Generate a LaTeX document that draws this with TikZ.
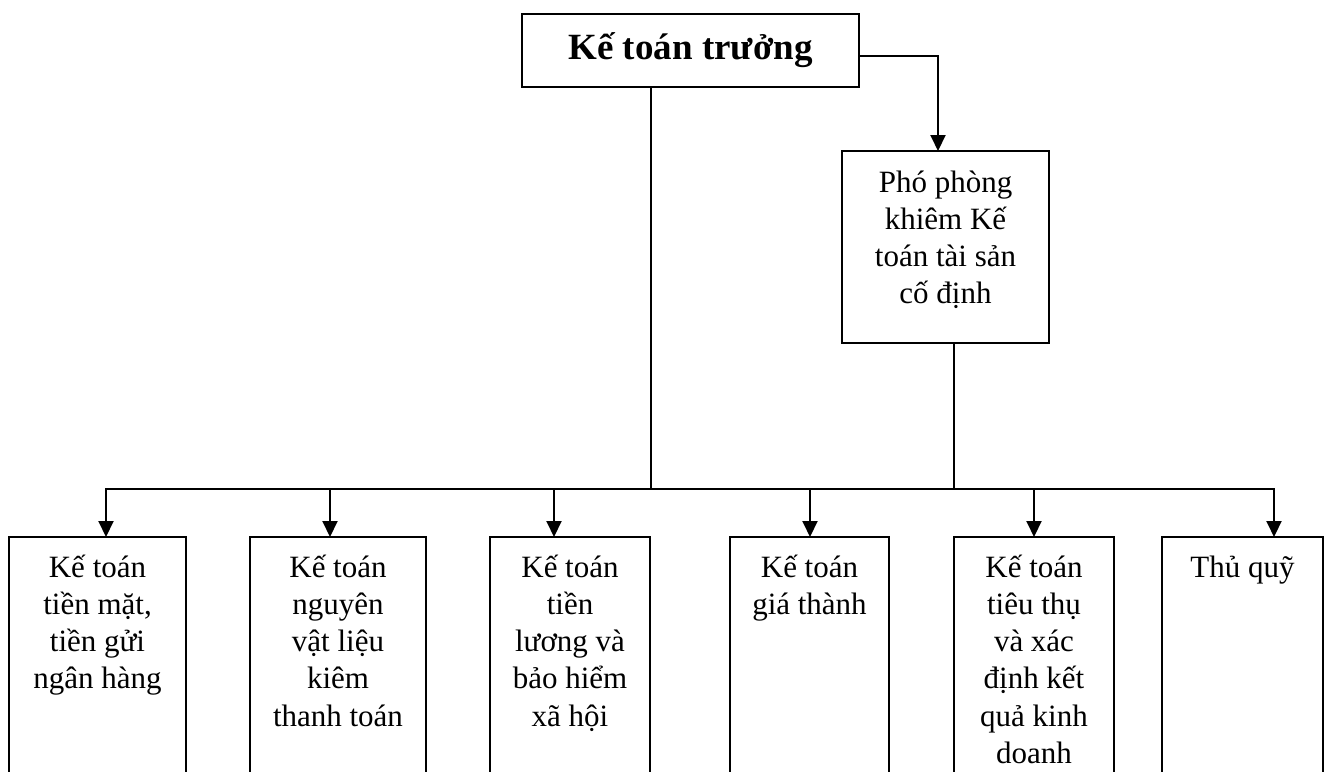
\documentclass[tikz,border=0pt]{standalone}
\usepackage{fontspec}
\setmainfont{Liberation Serif}
\usetikzlibrary{arrows.meta}
\begin{document}
\begin{tikzpicture}[x=1pt,y=-1pt,
  boxline/.style={draw,line width=1.7pt,inner sep=0pt,outer sep=0pt,anchor=north west},
  conn/.style={line width=2pt},
  arr/.style={conn,-{Triangle[width=15pt,length=16pt]}},
  lbl/.style={anchor=north,align=center,inner sep=0pt,font=\fontsize{31}{37.2}\selectfont}
]
\path[use as bounding box] (0,0) rectangle (1327,771);
\clip (0,0) rectangle (1327,771);

% head of the department
\node[boxline,minimum width=337pt,minimum height=73pt,
      font=\bfseries\fontsize{37}{44}\selectfont] (kt) at (522,14) {Kế toán trưởng};

% deputy
\node[boxline,minimum width=207pt,minimum height=192pt] (pp) at (842,151) {};
\node[lbl,yshift=-15pt] (ppt) at (pp.north) {\strut Phó phòng\\khiêm Kế\\toán tài sản\\cố định};

% staff boxes (running past the lower edge)
\node[boxline,minimum width=177pt,minimum height=263pt] (b1) at (9,537) {};
\node[boxline,minimum width=176pt,minimum height=263pt] (b2) at (250,537) {};
\node[boxline,minimum width=160pt,minimum height=263pt] (b3) at (490,537) {};
\node[boxline,minimum width=159pt,minimum height=263pt] (b4) at (730,537) {};
\node[boxline,minimum width=160pt,minimum height=263pt] (b5) at (954,537) {};
\node[boxline,minimum width=161pt,minimum height=263pt] (b6) at (1162,537) {};

\node[lbl,yshift=-14pt] (t1) at (b1.north) {\strut Kế toán\\tiền mặt,\\tiền gửi\\ngân hàng};
\node[lbl,yshift=-14pt] (t2) at (b2.north) {\strut Kế toán\\nguyên\\vật liệu\\kiêm\\thanh toán};
\node[lbl,yshift=-14pt] (t3) at (b3.north) {\strut Kế toán\\tiền\\lương và\\bảo hiểm\\xã hội};
\node[lbl,yshift=-14pt] (t4) at (b4.north) {\strut Kế toán\\giá thành};
\node[lbl,yshift=-14pt] (t5) at (b5.north) {\strut Kế toán\\tiêu thụ\\và xác\\định kết\\quả kinh\\doanh};
\node[lbl,yshift=-14pt] (t6) at (b6.north) {\strut Thủ quỹ};

% bus and drop points
\coordinate (ppin) at (938,56);
\coordinate (ktdrop) at (651,489);
\coordinate (ppdrop) at (954,489);
\coordinate (x1) at (106,489);
\coordinate (x2) at (330,489);
\coordinate (x3) at (554,489);
\coordinate (x4) at (810,489);
\coordinate (x5) at (1034,489);
\coordinate (x6) at (1274,489);

\draw[arr] (kt.east |- ppin) -| (pp.north -| ppin);
\draw[conn] (ktdrop |- kt.south) -- (ktdrop);
\draw[conn] (ppdrop |- pp.south) -- (ppdrop);
\draw[arr] (ktdrop) -| (b1.north -| x1);
\draw[arr] (ktdrop) -| (b6.north -| x6);
\draw[arr] (x2) -- (b2.north -| x2);
\draw[arr] (x3) -- (b3.north -| x3);
\draw[arr] (x4) -- (b4.north -| x4);
\draw[arr] (x5) -- (b5.north -| x5);
\end{tikzpicture}
\end{document}
